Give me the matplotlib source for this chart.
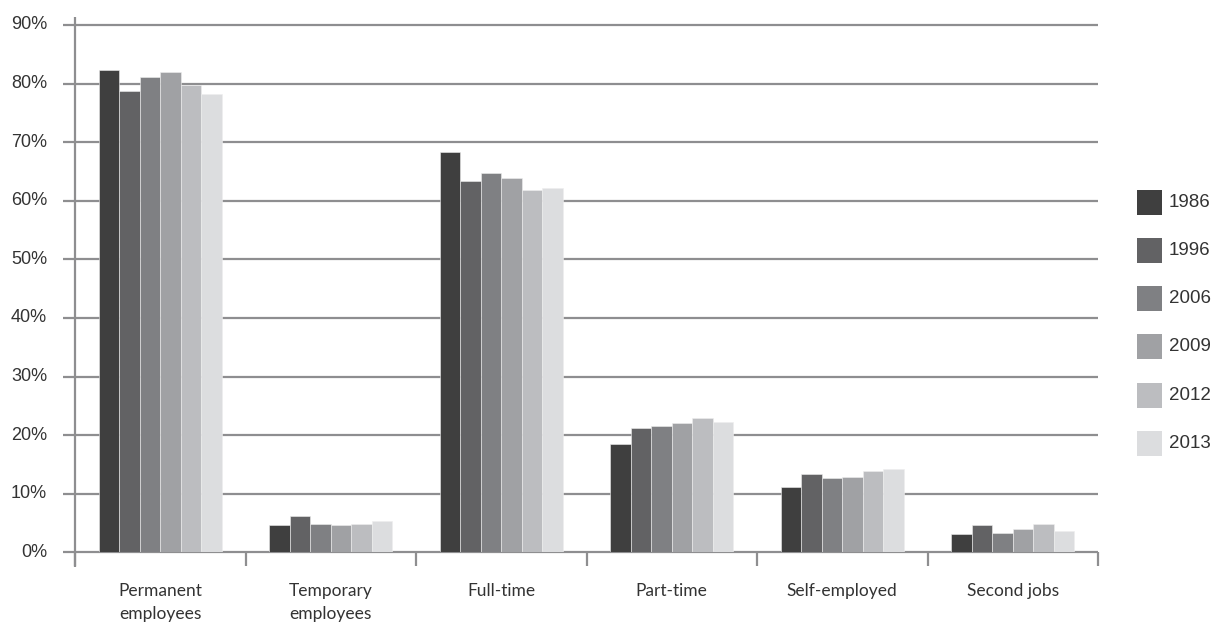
import matplotlib
matplotlib.use("Agg")
import matplotlib.pyplot as plt
import numpy as np
from matplotlib.patches import Rectangle

categories = ["Permanent\nemployees", "Temporary\nemployees", "Full-time",
              "Part-time", "Self-employed", "Second jobs"]
years = ["1986", "1996", "2006", "2009", "2012", "2013"]
values = {
    "1986": [82.3, 4.6, 68.3, 18.4, 11.1, 3.1],
    "1996": [78.8, 6.2, 63.3, 21.3, 13.3, 4.6],
    "2006": [81.1, 4.9, 64.7, 21.6, 12.6, 3.3],
    "2009": [81.9, 4.6, 63.9, 22.0, 12.9, 4.0],
    "2012": [79.7, 4.9, 61.8, 22.9, 13.9, 4.9],
    "2013": [78.2, 5.3, 62.1, 22.2, 14.2, 3.6],
}
y_ticks = [0, 10, 20, 30, 40, 50, 60, 70, 80, 90]
colors = ["#3f3f3f", "#626264", "#7f8083", "#a0a1a4", "#bcbdc0", "#dcdddf"]

W, H = 1215, 624
fig = plt.figure(figsize=(W / 100, H / 100), dpi=100)
x0, x1 = 75, 1098
yb, yt = 552.3, 25
ax = fig.add_axes([x0 / W, (H - yb) / H, (x1 - x0) / W, (yb - yt) / H])
ax.set_xlim(-0.5, len(categories) - 0.5)
ax.set_ylim(0, 90)
for s in ax.spines.values():
    s.set_visible(False)
ax.set_xticks([])
ax.set_yticks([])

grid_c = "#8e8e90"
ax_h = yb - yt
ax_w = x1 - x0
# horizontal gridlines with short ticks to the left of the axis
for v in y_ticks:
    ax.plot([-12 / ax_w, 1], [v, v], transform=ax.get_yaxis_transform(),
            color=grid_c, lw=1.6, clip_on=False, zorder=1, solid_capstyle="butt")
    ax.text(-28 / ax_w, v, f"{v}%", transform=ax.get_yaxis_transform(),
            ha="right", va="center", fontsize=13, color="#333333",
            family="Liberation Sans")
# left axis line
ax.plot([0, 0], [-15 / ax_h, 1 + 8 / ax_h], transform=ax.transAxes,
        color=grid_c, lw=1.6, clip_on=False, zorder=1, solid_capstyle="butt")
# category separator ticks
for b in np.arange(-0.5, len(categories), 1.0):
    ax.plot([b, b], [0, -14 / ax_h], transform=ax.get_xaxis_transform(),
            color=grid_c, lw=1.6, clip_on=False, zorder=1, solid_capstyle="butt")

bw = 0.12
x = np.arange(len(categories))
for i, (yr, c) in enumerate(zip(years, colors)):
    ax.bar(x + (i - 2.5) * bw, values[yr], width=bw, color=c,
           edgecolor="#eeeeee", linewidth=0.4, zorder=3)

for xi, cat in zip(x, categories):
    ax.text(xi, -31 / ax_h, cat, transform=ax.get_xaxis_transform(),
            ha="center", va="top", fontsize=12.5, color="#333333",
            family="Lato", linespacing=1.5)

# legend
leg_y = [202.7, 250.7, 298.5, 346.5, 395, 443.7]
for yr, c, ly in zip(years, colors, leg_y):
    fig.patches.append(Rectangle((1137 / W, (H - ly - 12.5) / H), 25 / W, 25 / H,
                                 transform=fig.transFigure, facecolor=c,
                                 edgecolor="none"))
    fig.text(1169 / W, (H - ly) / H, yr, ha="left", va="center",
             fontsize=13.5, color="#333333", family="Liberation Sans")

fig.savefig("out.png", dpi=100)
